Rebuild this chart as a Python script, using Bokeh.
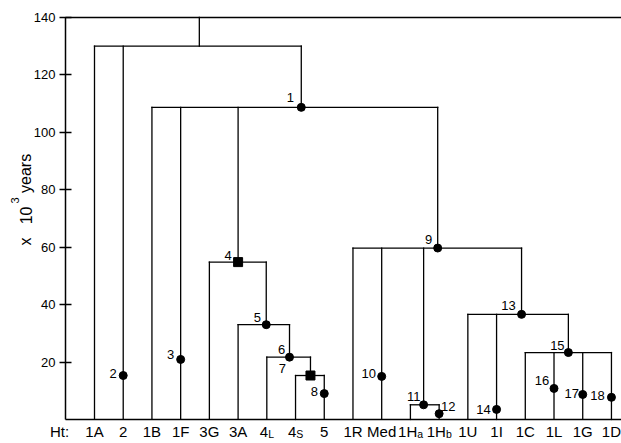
import math
from bokeh.plotting import figure
from bokeh.models import Label, FixedTicker
from bokeh.embed import file_html
from bokeh.resources import INLINE
from bokeh.core.properties import value

FONT = "Liberation Sans"

# ---- data ----
leaf_main = ["1A", "2", "1B", "1F", "3G", "3A", "4", "4", "5", "1R", "Med",
             "1H", "1H", "1U", "1I", "1C", "1L", "1G", "1D"]
leaf_sub = ["", "", "", "", "", "", "L", "S", "", "", "", "a", "b", "", "", "", "", "", ""]
leaf_parent = ["n130", "n130", "n1", "n1", "n4", "n5", "n6", "n7", "n7", "n9", "n9",
               "n11", "n11", "n13", "n13", "n15", "n15", "n15", "n15"]

root_height = 140
node_names = ["n130", "n1", "n4", "n5", "n6", "n7", "n9", "n11", "n13", "n15"]
node_x = [3.65, 7.2, 5.0, 5.98, 6.79, 7.52, 11.95, 11.46, 14.87, 16.5]
node_height = [130, 108.7, 54.8, 33.0, 21.7, 15.3, 59.7, 5.1, 36.6, 23.3]
node_parent = ["root", "n130", "n1", "n4", "n5", "n6", "n1", "n9", "n9", "n13"]
node_label = ["", "1", "4", "5", "6", "7", "9", "11", "13", "15"]
node_marker = [None, "circle", "square", "circle", "circle", "square",
               "circle", "circle", "circle", "circle"]

point_leaf = [1, 3, 8, 10, 12, 14, 16, 17, 18]
point_height = [15.3, 20.9, 9.0, 15.0, 2.0, 3.5, 10.8, 8.7, 7.7]
point_label = ["2", "3", "8", "10", "12", "14", "16", "17", "18"]

y_ticks = [20, 40, 60, 80, 100, 120, 140]
y_title = [("x", "16px"), ("10", "16px"), ("3", "11px"), ("years", "16px")]

# ---- layout / style ----
X_AXIS = -1.01          # where the y axis sits (leaf-index units)
X_START, X_END = -3.273, 18.35
Y_START, Y_END = -8.38, 145.92
LEAF_Y = -4.35

label_offset = {
    "1": (-11, -10), "4": (-10, -7), "5": (-9, -7), "6": (-8, -8), "7": (-28, -7),
    "9": (-9, -9), "11": (-10, -8), "13": (-13, -9), "15": (-11, -7),
    "2": (-10, -2), "3": (-10, -5), "8": (-10, -2), "10": (-13, -3), "12": (9, -7),
    "14": (-13, 0), "16": (-12, -8), "17": (-11, -1), "18": (-14, -2),
}
sub_junction = {"L": 1.4, "S": 0.8, "a": 6.8, "b": 6.8}
title_pos = [(-2.40, 62.0), (-2.40, 71.05), (-2.77, 76.3), (-2.40, 85.7)]

p = figure(width=621, height=443, x_range=(X_START, X_END), y_range=(Y_START, Y_END),
           output_backend="svg", toolbar_location=None, x_axis_location=None,
           min_border_left=0, min_border_right=0, min_border_top=0, min_border_bottom=0)
p.outline_line_color = None
p.grid.visible = False
p.background_fill_color = "white"

# y axis, drawn inside the frame at X_AXIS
ax = p.yaxis[0]
ax.fixed_location = X_AXIS
ax.ticker = FixedTicker(ticks=y_ticks)
ax.bounds = (0, root_height)
ax.axis_line_width = 1.5
ax.axis_line_color = "black"
ax.major_tick_line_width = 1.5
ax.major_tick_line_color = "black"
ax.major_tick_in = 6
ax.major_tick_out = 6
ax.minor_tick_line_color = None
ax.major_label_text_font = FONT
ax.major_label_text_font_size = "13px"
ax.major_label_text_color = "black"
ax.major_label_standoff = 4

# baseline and root (top) line
p.segment([X_AXIS, X_AXIS], [0, root_height], [X_END, X_END], [0, root_height],
          line_color="black", line_width=1.4)

# tree segments
pos = {n: (x, h) for n, x, h in zip(node_names, node_x, node_height)}
pos["root"] = (None, root_height)
x0, y0, x1, y1 = [], [], [], []
children = {n: [] for n in node_names}
for i, par in enumerate(leaf_parent):
    x0.append(i); y0.append(0); x1.append(i); y1.append(pos[par][1])
    children[par].append(i)
for n, x, h, par in zip(node_names, node_x, node_height, node_parent):
    x0.append(x); y0.append(h); x1.append(x); y1.append(pos[par][1])
    if par in children:
        children[par].append(x)
for n in node_names:
    xs = children[n]
    h = pos[n][1]
    x0.append(min(xs)); y0.append(h); x1.append(max(xs)); y1.append(h)

p.segment(x0, y0, x1, y1, line_color="black", line_width=1.3, line_cap="square")

# markers
cx = [x for x, m in zip(node_x, node_marker) if m == "circle"] + point_leaf
cy = [h for h, m in zip(node_height, node_marker) if m == "circle"] + point_height
p.scatter(cx, cy, marker="circle", size=8, color="black")
sx = [x for x, m in zip(node_x, node_marker) if m == "square"]
sy = [h for h, m in zip(node_height, node_marker) if m == "square"]
p.scatter(sx, sy, marker="square", size=9, color="black")

# node / point labels
lab_x, lab_y, lab_t = [], [], []
for x, h, t in zip(node_x, node_height, node_label):
    if t:
        lab_x.append(x); lab_y.append(h); lab_t.append(t)
for x, h, t in zip(point_leaf, point_height, point_label):
    lab_x.append(x); lab_y.append(h); lab_t.append(t)
for x, h, t in zip(lab_x, lab_y, lab_t):
    dx, dy = label_offset[t]
    p.text([x], [h], text=[t], x_offset=dx, y_offset=dy, text_align="center",
           text_baseline="middle", text_font=value(FONT), text_font_size="13px",
           text_color="black")

# leaf labels
for i, (m, s) in enumerate(zip(leaf_main, leaf_sub)):
    if s:
        j = sub_junction[s]
        p.text([i], [LEAF_Y], text=[m], x_offset=j, text_align="right",
               text_baseline="middle", text_font=value(FONT),
               text_font_size="15px", text_color="black")
        p.text([i], [LEAF_Y], text=[s], x_offset=j, y_offset=1.6, text_align="left",
               text_baseline="middle", text_font=value(FONT),
               text_font_size="10.5px", text_color="black")
    else:
        p.text([i], [LEAF_Y], text=[m], text_align="center",
               text_baseline="middle", text_font=value(FONT),
               text_font_size="15px", text_color="black")

p.add_layout(Label(x=-1.219, y=LEAF_Y, text="Ht:", text_align="center",
                   text_baseline="middle", text_font=FONT,
                   text_font_size="15px", text_color="black"))

# y title pieces (rotated)
for (t, fs), (xv, yv) in zip(y_title, title_pos):
    p.add_layout(Label(x=xv, y=yv, text=t, angle=math.pi / 2, text_align="center",
                       text_baseline="middle", text_font=FONT,
                       text_font_size=fs, text_color="black"))

open("out.html", "w").write(file_html(p, INLINE))
